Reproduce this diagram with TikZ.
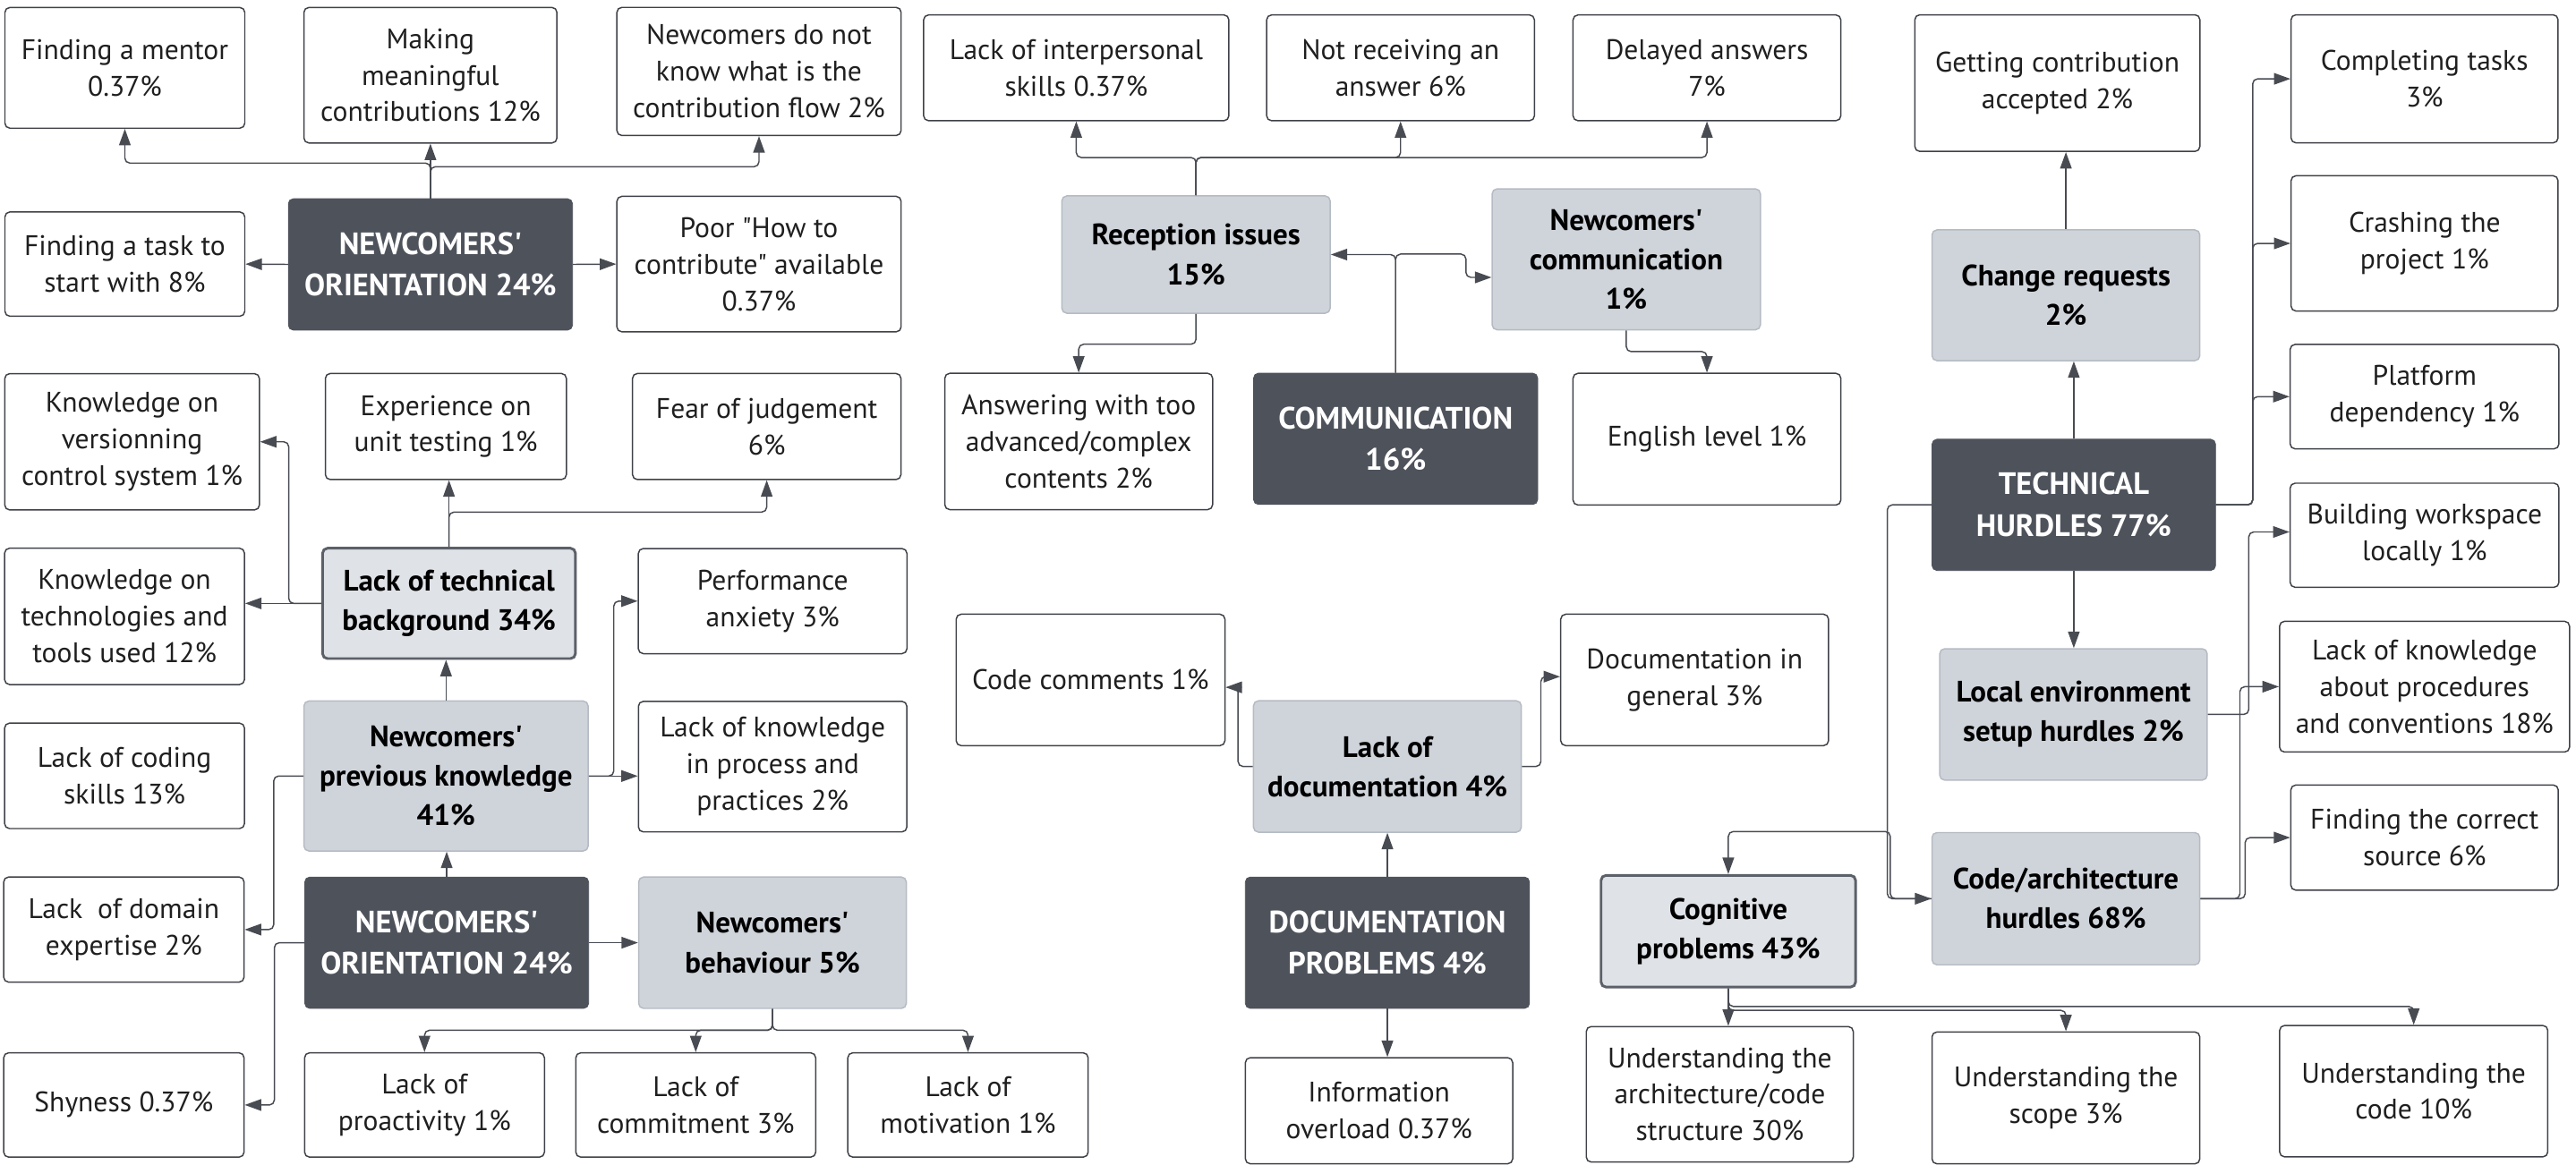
\documentclass[tikz,border=0pt]{standalone}
\usepackage{fontspec}
\setmainfont{PT Sans}[Ligatures=TeXOff]
\usetikzlibrary{arrows.meta}
\definecolor{rootfill}{RGB}{78,82,91}
\definecolor{groupfill}{RGB}{207,212,219}
\definecolor{groupline}{RGB}{182,187,195}
\definecolor{keyfill}{RGB}{223,226,231}
\definecolor{keyline}{RGB}{92,96,104}
\definecolor{leafline}{RGB}{62,65,71}
\definecolor{linkcol}{RGB}{72,75,82}
\tikzset{
  box/.style={rectangle, rounded corners=3pt, inner sep=0pt, align=center,
    font=\fontsize{17.2}{22.3}\selectfont},
  wh/.style 2 args={minimum width=#1pt, minimum height=#2pt},
  leaf/.style={box, draw=leafline, line width=0.8pt, fill=white, text=black!88},
  group/.style={box, draw=groupline, line width=0.8pt, fill=groupfill, text=black,
    font=\fontsize{18}{24}\selectfont\bfseries},
  keygroup/.style={group, draw=keyline, line width=1.6pt, fill=keyfill},
  root/.style={box, draw=rootfill, fill=rootfill, text=white,
    font=\fontsize{18.8}{25.4}\selectfont\bfseries},
  link/.style={draw=linkcol, line width=0.8pt, rounded corners=3pt,
    -{Triangle[length=10pt,width=7pt]}}
}
\begin{document}
\begin{tikzpicture}[x=1pt,y=-1pt]
  \fill[white] (0,0) rectangle (1568,709.3);
  \useasboundingbox (0,0) rectangle (1568,709.3);

  % newcomers' orientation (top)
  \node[leaf, wh={146}{73.5}] (mentor) at (76,41.3) {Finding a mentor\\0.37\%};
  \node[leaf, wh={154}{82.5}] (making) at (262,45.8) {Making\\meaningful\\contributions 12\%};
  \node[leaf, wh={173}{78}] (flow) at (462,43.5) {Newcomers do not\\know what is the\\contribution flow 2\%};
  \node[leaf, wh={146}{63.5}] (task) at (76,160.8) {Finding a task to\\start with 8\%};
  \node[root, wh={173}{80}] (orient1) at (262,161) {NEWCOMERS'\\ORIENTATION 24\%};
  \node[leaf, wh={173}{82.5}] (poor) at (462,160.8) {Poor "How to\\contribute" available\\0.37\%};

  \draw[link] (orient1.north) -- ++(0,-21.5) -| (mentor.south);
  \draw[link] (orient1.north) -- (making.south);
  \draw[link] (orient1.north) -- ++(0,-19.3) -| (flow.south);
  \draw[link] (orient1.west) -- (task.east);
  \draw[link] (orient1.east) -- (poor.west);

  % previous knowledge / behaviour
  \node[leaf, wh={155}{83}] (vers) at (80.4,269) {Knowledge on\\versionning\\control system 1\%};
  \node[leaf, wh={146.7}{64.6}] (exp) at (271.4,259.7) {Experience on\\unit testing 1\%};
  \node[leaf, wh={163.4}{64.6}] (fear) at (466.7,259.7) {Fear of judgement\\6\%};
  \node[keygroup, wh={153.9}{67.2}] (techbg) at (273.3,367.4) {Lack of technical\\background 34\%};
  \node[leaf, wh={146}{83}] (tools) at (75.8,375.3) {Knowledge on\\technologies and\\tools used 12\%};
  \node[leaf, wh={163.5}{64}] (perf) at (470.3,366) {Performance\\anxiety 3\%};
  \node[leaf, wh={146}{64.2}] (coding) at (75.8,472.4) {Lack of coding\\skills 13\%};
  \node[group, wh={173}{91.3}] (prevk) at (271.5,472.5) {Newcomers'\\previous knowledge\\41\%};
  \node[leaf, wh={163.4}{79.5}] (procs) at (470.3,466.8) {Lack of knowledge\\in process and\\practices 2\%};
  \node[leaf, wh={146.3}{64}] (domain) at (75.4,566) {Lack\ \ of domain\\expertise 2\%};
  \node[root, wh={172.8}{80}] (orient2) at (271.9,574) {NEWCOMERS'\\ORIENTATION 24\%};
  \node[group, wh={162.9}{80}] (behav) at (470.2,574) {Newcomers'\\behaviour 5\%};
  \node[leaf, wh={146.3}{63.5}] (shy) at (75.4,672.8) {Shyness 0.37\%};
  \node[leaf, wh={146}{63.5}] (proact) at (258.4,672.8) {Lack of\\proactivity 1\%};
  \node[leaf, wh={146}{63.5}] (commit) at (423.5,672.8) {Lack of\\commitment 3\%};
  \node[leaf, wh={146.3}{63.5}] (motiv) at (589.2,672.8) {Lack of\\motivation 1\%};

  \draw[link] (orient2.north) -- (orient2.north |- prevk.south);
  \draw[link] (prevk.north) -- (prevk.north |- techbg.south);
  \draw[link] (techbg.north) -- (techbg.north |- exp.south);
  \draw[link] (techbg.north) -- ++(0,-21.2) -| (fear.south);
  \draw[link] (techbg.west) -- (techbg.west -| tools.east);
  \draw[link] (techbg.west) -- ++(-19.8,0) |- (vers.east);
  \draw[link] (prevk.west) -- ++(-18,0) |- (domain.east);
  \draw[link] (orient2.west) -- ++(-18.3,0) |- (shy.east);
  \draw[link] (prevk.east) -- (prevk.east -| procs.west);
  \draw[link] (prevk.east) -- ++(15.2,0) |- (perf.west);
  \draw[link] (orient2.east) -- (behav.west);
  \draw[link] (behav.south) -- ++(0,12.9) -| (proact.north);
  \draw[link] (behav.south) -- ++(0,12.9) -| (commit.north);
  \draw[link] (behav.south) -- ++(0,12.9) -| (motiv.north);

  % communication
  \node[leaf, wh={185.8}{64.4}] (inter) at (655.1,41.3) {Lack of interpersonal\\skills 0.37\%};
  \node[leaf, wh={163}{64.4}] (notrecv) at (852.5,41.3) {Not receiving an\\answer 6\%};
  \node[leaf, wh={163}{64.4}] (delayed) at (1039,41.3) {Delayed answers\\7\%};
  \node[group, wh={163.3}{71.4}] (recep) at (728,155) {Reception issues\\15\%};
  \node[group, wh={163.3}{85.8}] (ncomm) at (989.9,157.9) {Newcomers'\\communication\\1\%};
  \node[leaf, wh={163}{83}] (answer) at (656.6,268.8) {Answering with too\\advanced/complex\\contents 2\%};
  \node[root, wh={173}{80}] (comm) at (849.5,267.2) {COMMUNICATION\\16\%};
  \node[leaf, wh={163}{80.2}] (english) at (1039,267.4) {English level 1\%};

  \draw[link] (recep.north) -- ++(0,-23) -| (inter.south);
  \draw[link] (recep.north) -- ++(0,-23) -| (notrecv.south);
  \draw[link] (recep.north) -- ++(0,-23) -| (delayed.south);
  \draw[link] (recep.south) -- ++(0,18.5) -| (answer.north);
  \draw[link] (comm.north) |- (recep.east);
  \draw[link] (comm.north) -- ++(0,-72.3) -- ++(42.8,0) |- ([yshift=-11pt]ncomm.west);
  \draw[link] (ncomm.south) -- ++(0,12.9) -| (english.north);

  % documentation
  \node[leaf, wh={163.6}{80}] (code) at (663.8,414) {Code comments 1\%};
  \node[group, wh={163}{80}] (lackdoc) at (844.5,466.7) {Lack of\\documentation 4\%};
  \node[leaf, wh={163}{80}] (docgen) at (1031.5,414) {Documentation in\\general 3\%};
  \node[root, wh={173}{80}] (docprob) at (844.5,574) {DOCUMENTATION\\PROBLEMS 4\%};
  \node[leaf, wh={162.7}{64.6}] (info) at (839.4,676.3) {Information\\overload 0.37\%};

  \draw[link] (lackdoc.west) -- ++(-9,0) |- ([yshift=-4.5pt]code.east);
  \draw[link] (lackdoc.east) -- ++(11.5,0) |- ([yshift=2pt]docgen.west);
  \draw[link] (docprob.north) -- (lackdoc.south);
  \draw[link] (docprob.south) -- (docprob.south |- info.north);

  % technical hurdles
  \node[leaf, wh={173.5}{83.2}] (getacc) at (1252.3,50.6) {Getting contribution\\accepted 2\%};
  \node[group, wh={163}{79.6}] (change) at (1257.5,179.8) {Change requests\\2\%};
  \node[root, wh={172.6}{80}] (tech) at (1262.3,307.4) {TECHNICAL\\HURDLES 77\%};
  \node[leaf, wh={162.5}{78}] (complete) at (1475.8,48) {Completing tasks\\3\%};
  \node[leaf, wh={162.5}{82.4}] (crash) at (1475.8,148.2) {Crashing the\\project 1\%};
  \node[leaf, wh={163.6}{63.6}] (platform) at (1475.8,241.5) {Platform\\dependency 1\%};
  \node[leaf, wh={163.6}{63.4}] (build) at (1475.8,325.9) {Building workspace\\locally 1\%};
  \node[group, wh={162.8}{80}] (localenv) at (1262.1,435) {Local environment\\setup hurdles 2\%};
  \node[leaf, wh={176.5}{79.6}] (lackproc) at (1475.8,418.1) {Lack of knowledge\\about procedures\\and conventions 18\%};
  \node[group, wh={163}{80.5}] (codearch) at (1257.5,547.2) {Code/architecture\\hurdles 68\%};
  \node[leaf, wh={162.8}{64}] (findsrc) at (1475.8,510) {Finding the correct\\source 6\%};
  \node[keygroup, wh={154.9}{68}] (cog) at (1052,567) {Cognitive\\problems 43\%};
  \node[leaf, wh={162.5}{82.5}] (uarch) at (1046.8,666.3) {Understanding the\\architecture/code\\structure 30\%};
  \node[leaf, wh={163}{80.3}] (uscope) at (1257.5,668.5) {Understanding the\\scope 3\%};
  \node[leaf, wh={163.2}{80}] (ucode) at (1469.2,664.4) {Understanding the\\code 10\%};

  \draw[link] (change.north) -- (change.north |- getacc.south);
  \draw[link] (tech.north) -- (tech.north |- change.south);
  \draw[link] (tech.east) -- ++(22.4,0) |- (complete.west);
  \draw[link] (tech.east) -- ++(22.4,0) |- (crash.west);
  \draw[link] (tech.east) -- ++(22.4,0) |- (platform.west);
  \draw[link] (tech.south) -- (tech.south |- localenv.north);
  \draw[link] (localenv.east) -- ++(24.9,0) |- ([yshift=2pt]build.west);
  \draw[link] (tech.west) -- ++(-27,0) |- (codearch.west);
  \draw[link] (codearch.west) -- ++(-25,0) -- ++(0,-40.9) -| (cog.north);
  \draw[link] (codearch.east) -- ++(24,0) |- (lackproc.west);
  \draw[link] (codearch.east) -- ++(27.2,0) |- (findsrc.west);
  \draw[link] (cog.south) -- ++(0,11) -| (ucode.north);
  \draw[link] (cog.south) -- ++(0,13.4) -| (uscope.north);
  \draw[link] (cog.south) -- (cog.south |- uarch.north);
\end{tikzpicture}
\end{document}
